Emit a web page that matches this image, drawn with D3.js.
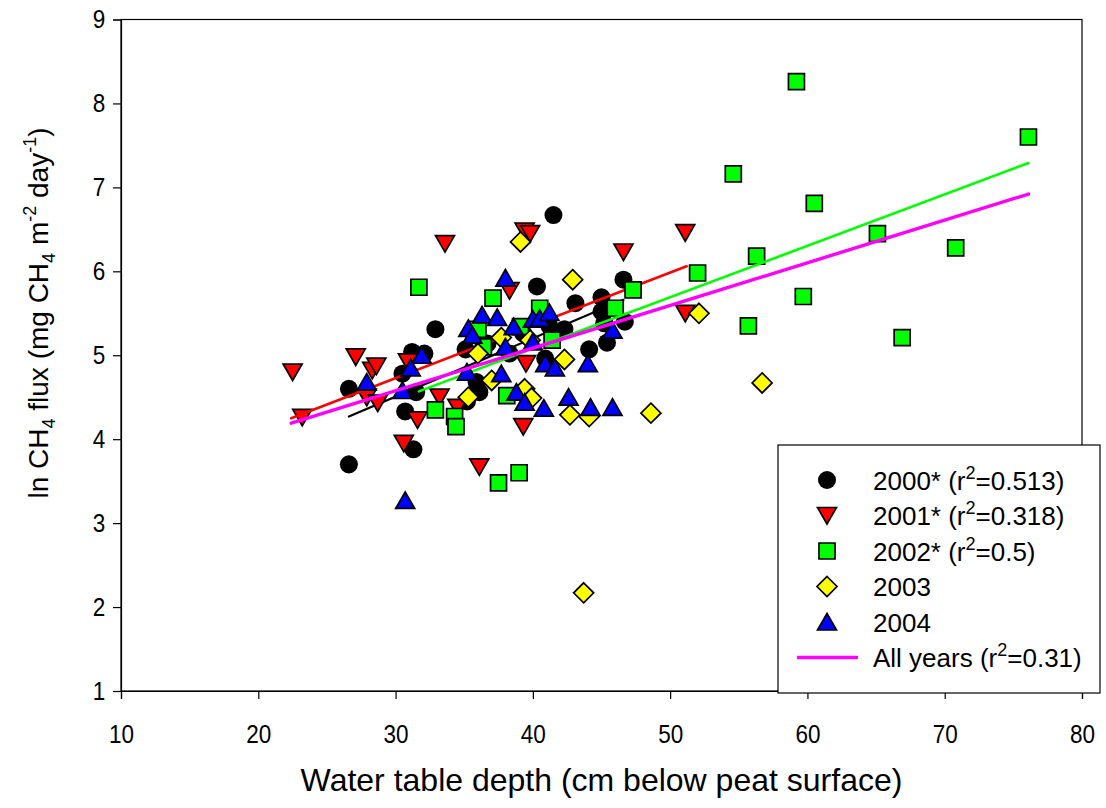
<!DOCTYPE html>
<html>
<head>
<meta charset="utf-8">
<script src="https://cdn.jsdelivr.net/npm/d3@7"></script>
<style>
  body { margin: 0; background: #fff; }
  svg { font-family: "Liberation Sans", Arial, sans-serif; }
</style>
</head>
<body>
<div id="chart"></div>
<script>
// water table depth (cm), ln CH4 flux
const y2000 = [[26.6,4.60],[26.6,3.70],[30.5,4.78],[30.7,4.33],[31.2,5.04],[31.3,3.88],[31.5,4.56],[32.1,5.02],[32.9,5.31],
  [35.1,5.07],[35.2,4.45],[35.9,4.68],[36.1,4.56],[36.7,5.14],[38.3,5.02],[39.3,5.26],[40.3,5.82],[41.5,6.67],[40.9,4.96],
  [41.2,5.35],[42.3,5.31],[43.1,5.62],[44.1,5.07],[45.0,5.69],[45.0,5.52],[45.4,5.15],[45.2,5.38],[46.6,5.90],[46.7,5.40]];
const y2001 = [[22.5,4.80],[23.2,4.26],[27.1,4.98],[28.3,4.82],[28.6,4.87],[27.9,4.50],[28.7,4.43],[30.9,4.92],[31.6,4.23],
  [30.6,3.95],[33.2,4.50],[33.6,6.33],[39.4,6.48],[39.8,6.45],[46.6,6.23],[38.3,5.77],[39.5,4.90],[34.5,4.38],[39.3,4.15],
  [36.1,3.67],[51.1,6.46],[51.1,5.50]];
const y2002 = [[31.7,5.81],[32.9,4.35],[34.3,4.27],[34.4,4.15],[37.1,5.68],[38.1,4.52],[37.5,3.48],[39.0,3.60],[36.0,5.31],
  [36.4,5.10],[40.5,5.56],[41.4,5.18],[39.1,5.34],[47.3,5.78],[46.0,5.56],[52.0,5.98],[55.7,5.35],[56.3,6.18],[59.2,8.26],
  [76.1,7.60],[54.6,7.16],[60.5,6.81],[65.1,6.45],[70.8,6.28],[59.7,5.70],[66.9,5.21]];
const y2003 = [[39.1,6.35],[42.9,5.90],[37.7,5.21],[36.0,5.02],[37.0,4.70],[35.3,4.50],[42.3,4.95],[39.8,5.18],[39.4,4.60],
  [39.9,4.49],[42.7,4.29],[44.1,4.27],[52.1,5.50],[56.7,4.67],[48.6,4.31],[43.7,2.17]];
const y2004 = [[27.9,4.68],[31.1,4.85],[31.9,5.00],[30.5,4.58],[30.7,3.27],[38.0,5.92],[36.3,5.48],[37.4,5.45],[35.3,5.32],
  [35.6,5.24],[38.6,5.34],[40.0,5.43],[40.5,5.44],[41.2,5.51],[38.0,5.10],[40.0,5.16],[40.9,4.90],[41.6,4.85],[44.0,4.90],
  [37.7,4.78],[35.2,4.80],[38.8,4.56],[39.4,4.44],[40.8,4.37],[42.6,4.50],[44.2,4.38],[45.8,4.38],[45.8,5.30]];

// regression line end points
const fit2000 = [[26.6,4.27],[46.6,5.66]];
const fit2001 = [[22.4,4.25],[51.2,6.06]];
const fit2002 = [[31.7,4.57],[76.1,7.29]];
const fitAll  = [[22.4,4.19],[76.1,6.92]];

const xTicks = [10,20,30,40,50,60,70,80];
const yTicks = [1,2,3,4,5,6,7,8,9];

const legendItems = [
  {shape: "circle", fill: "#000000", label: "2000* (r", sup: "2", rest: "=0.513)"},
  {shape: "down", fill: "#ff0000", label: "2001* (r", sup: "2", rest: "=0.318)"},
  {shape: "square", fill: "#00ff00", label: "2002* (r", sup: "2", rest: "=0.5)"},
  {shape: "diamond", fill: "#ffff00", label: "2003"},
  {shape: "up", fill: "#0000ff", label: "2004"},
  {shape: "line", fill: "#ff00ff", label: "All years (r", sup: "2", rest: "=0.31)"}
];

const width = 1106, height = 808;
const margin = {top: 19.5, right: 24, bottom: 117, left: 121};

const svg = d3.select("#chart").append("svg")
  .attr("width", width).attr("height", height);

const x = d3.scaleLinear().domain([10, 80]).range([margin.left, width - margin.right]);
const y = d3.scaleLinear().domain([1, 9]).range([height - margin.bottom, margin.top]);

// marker path generator, centred on 0,0
function shapePath(shape) {
  if (shape === "circle") return d3.symbol(d3.symbolCircle, 255)();
  if (shape === "square") return "M-8,-8H8V8H-8Z";
  if (shape === "diamond") return "M0,-10L10,0L0,10L-10,0Z";
  if (shape === "up") return "M0,-8.5L9.5,8H-9.5Z";
  if (shape === "down") return "M0,8.5L9.5,-8H-9.5Z";
}

function drawPoints(data, shape, fill) {
  svg.append("g").selectAll("path")
    .data(data)
    .enter().append("path")
      .attr("transform", d => `translate(${x(d[0])},${y(d[1])})`)
      .attr("d", shapePath(shape))
      .attr("fill", fill)
      .attr("stroke", shape === "circle" ? "none" : "#000")
      .attr("stroke-width", 1.7)
      .attr("stroke-linejoin", "miter");
}

let line = d3.line().x(d => x(d[0])).y(d => y(d[1]));

function drawFit(data, color, w) {
  svg.append("path")
    .datum(data)
    .attr("d", line)
    .attr("fill", "none")
    .attr("stroke", color)
    .attr("stroke-width", w)
    .attr("stroke-linecap", "round");
}

drawPoints(y2000, "circle", "#000");
drawFit(fit2000, "#000", 2.2);
drawPoints(y2001, "down", "#ff0000");
drawFit(fit2001, "#ff0000", 2.6);
drawPoints(y2002, "square", "#00ff00");
drawFit(fit2002, "#00ff00", 2.6);
drawPoints(y2003, "diamond", "#ffff00");
drawPoints(y2004, "up", "#0000ff");
drawFit(fitAll, "#ff00ff", 3.4);

// frame
svg.append("rect")
  .attr("x", x(10)).attr("y", y(9))
  .attr("width", x(80) - x(10)).attr("height", y(1) - y(9))
  .attr("fill", "none").attr("stroke", "#000").attr("stroke-width", 1.2);

// tick labels are a bit condensed in the original
let xAxis = g => g
  .attr("transform", `translate(0,${y(1)})`)
  .call(d3.axisBottom(x).tickValues(xTicks).tickSize(8).tickPadding(26).tickFormat(d3.format("d")))
  .call(g => g.select(".domain").attr("stroke-width", 1.2))
  .call(g => g.selectAll(".tick line").attr("stroke-width", 1.2))
  .call(g => g.selectAll("text").attr("font-size", "25px").attr("fill", "#000")
    .attr("transform", "scale(0.9,1)")
    .attr("font-family", "'Liberation Sans', Arial, sans-serif"));

let yAxis = g => g
  .attr("transform", `translate(${x(10)},0)`)
  .call(d3.axisLeft(y).tickValues(yTicks).tickSize(8).tickPadding(8).tickFormat(d3.format("d")))
  .call(g => g.select(".domain").attr("stroke-width", 1.2))
  .call(g => g.selectAll(".tick line").attr("stroke-width", 1.2))
  .call(g => g.selectAll("text").attr("font-size", "25px").attr("fill", "#000")
    .attr("x", -17.5).attr("transform", "scale(0.9,1)")
    .attr("font-family", "'Liberation Sans', Arial, sans-serif"));

svg.append("g").call(xAxis);
svg.append("g").call(yAxis);

// axis titles
svg.append("text")
  .attr("x", (x(10) + x(80)) / 2)
  .attr("y", 791)
  .attr("text-anchor", "middle")
  .attr("font-size", "32px")
  .text("Water table depth (cm below peat surface)");

let yt = svg.append("text")
  .attr("transform", "translate(48,313) rotate(-90)")
  .attr("text-anchor", "middle")
  .attr("font-size", "28px");
yt.append("tspan").text("ln CH");
yt.append("tspan").attr("font-size", "18px").attr("dy", 7).text("4");
yt.append("tspan").attr("dy", -7).text(" flux (mg CH");
yt.append("tspan").attr("font-size", "18px").attr("dy", 7).text("4");
yt.append("tspan").attr("dy", -7).text(" m");
yt.append("tspan").attr("font-size", "18px").attr("dy", -12).text("-2");
yt.append("tspan").attr("dy", 12).text(" day");
yt.append("tspan").attr("font-size", "18px").attr("dy", -12).text("-1");
yt.append("tspan").attr("dy", 12).text(")");

// legend
let legend = svg.append("g");
legend.append("rect")
  .attr("x", 778).attr("y", 445)
  .attr("width", 322).attr("height", 248)
  .attr("fill", "#fff").attr("stroke", "#000").attr("stroke-width", 1.2);

let rows = legend.selectAll("g.row")
  .data(legendItems)
  .enter().append("g")
    .attr("class", "row")
    .attr("transform", (d, i) => `translate(0,${480 + i * 35.5})`);

rows.each(function(d) {
  let g = d3.select(this);
  if (d.shape === "line") {
    g.append("line")
      .attr("x1", 797).attr("x2", 858).attr("y1", 0).attr("y2", 0)
      .attr("stroke", d.fill).attr("stroke-width", 3.4);
  } else {
    g.append("path")
      .attr("transform", "translate(827,0)")
      .attr("d", shapePath(d.shape))
      .attr("fill", d.fill)
      .attr("stroke", d.shape === "circle" ? "none" : "#000")
      .attr("stroke-width", 1.7);
  }
  let t = g.append("text")
    .attr("x", 873).attr("y", 9.5)
    .attr("font-size", "26px");
  t.append("tspan").text(d.label);
  if (d.sup) {
    t.append("tspan").attr("font-size", "18px").attr("dy", -11).text(d.sup);
    t.append("tspan").attr("dy", 11).text(d.rest);
  }
});
</script>
</body>
</html>
